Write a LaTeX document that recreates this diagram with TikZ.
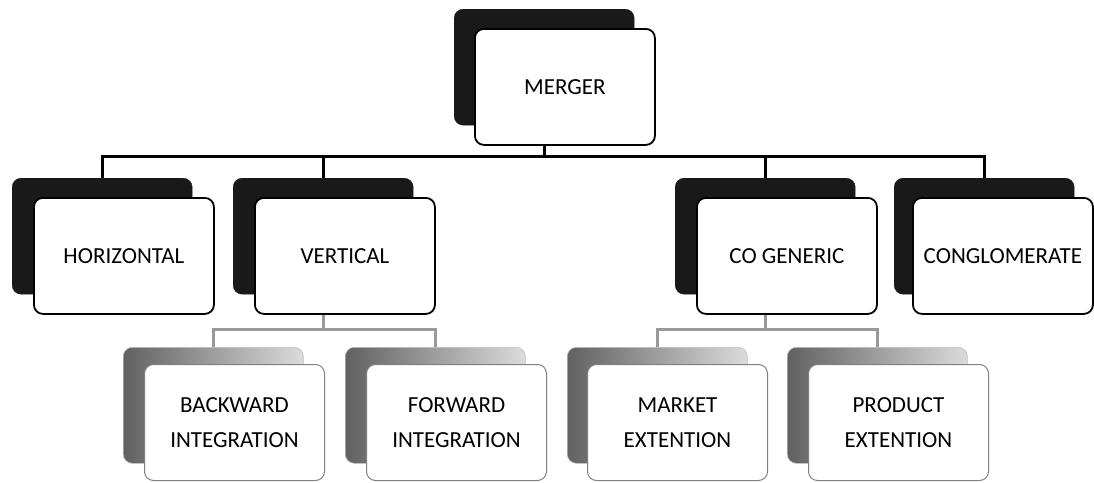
\documentclass[tikz,border=0pt]{standalone}
\usepackage{fontspec}
\setmainfont{Carlito}
\begin{document}
\begin{tikzpicture}[x=1pt,y=-1pt,
  boxbase/.style={rectangle, rounded corners=9pt, minimum width=180pt, minimum height=116pt, anchor=north west, inner sep=0pt},
  backtop/.style={boxbase, fill=black!90, draw=black!90},
  fronttop/.style={boxbase, fill=white, draw=black, line width=1.8pt, font=\fontsize{23}{35}\selectfont, align=center},
  backchild/.style={boxbase, left color=black!62, right color=black!14, draw=black!25, line width=0.6pt},
  frontchild/.style={boxbase, fill=white, draw=black!50, line width=1pt, font=\fontsize{23}{35}\selectfont, align=center},
  toplink/.style={line width=3pt, draw=black},
  childlink/.style={line width=3pt, draw=black!40}]
\useasboundingbox (0,0) rectangle (1094,482);

% top level
\node[backtop] (mergerB) at (454,9) {};
\node[fronttop] (mergerF) at (474,28) {MERGER};

\node[backtop] (horB) at (12,178) {};
\node[fronttop] (horF) at (33,197) {HORIZONTAL};
\node[backtop] (verB) at (233,178) {};
\node[fronttop] (verF) at (254,197) {VERTICAL};
\node[backtop] (cogB) at (675,178) {};
\node[fronttop] (cogF) at (696,197) {CO GENERIC};
\node[backtop] (conB) at (894,178) {};
\node[fronttop] (conF) at (912,197) {CONGLOMERATE};

% children
\node[backchild] (bwdB) at (123,347) {};
\node[frontchild] (bwdF) at (144,364) {BACKWARD\\INTEGRATION};
\node[backchild] (fwdB) at (345,347) {};
\node[frontchild] (fwdF) at (366,364) {FORWARD\\INTEGRATION};
\node[backchild] (mktB) at (567,347) {};
\node[frontchild] (mktF) at (587,364) {MARKET\\EXTENTION};
\node[backchild] (prdB) at (787,347) {};
\node[frontchild] (prdF) at (808,364) {PRODUCT\\EXTENTION};

% connectors
\coordinate (barA) at (0,156);
\coordinate (barB) at (0,329);
\draw[toplink] (mergerB.south |- mergerF.south) -- (mergerB.south |- barA);
\draw[toplink] (horB.north) -- (horB.north |- barA) -- (conB.north |- barA) -- (conB.north);
\draw[toplink] (verB.north |- barA) -- (verB.north);
\draw[toplink] (cogB.north |- barA) -- (cogB.north);

\draw[childlink] (verB.south |- verF.south) -- (verB.south |- barB);
\draw[childlink] (bwdB.north) -- (bwdB.north |- barB) -- (fwdB.north |- barB) -- (fwdB.north);
\draw[childlink] (cogB.south |- cogF.south) -- (cogB.south |- barB);
\draw[childlink] (mktB.north) -- (mktB.north |- barB) -- (prdB.north |- barB) -- (prdB.north);
\end{tikzpicture}
\end{document}
